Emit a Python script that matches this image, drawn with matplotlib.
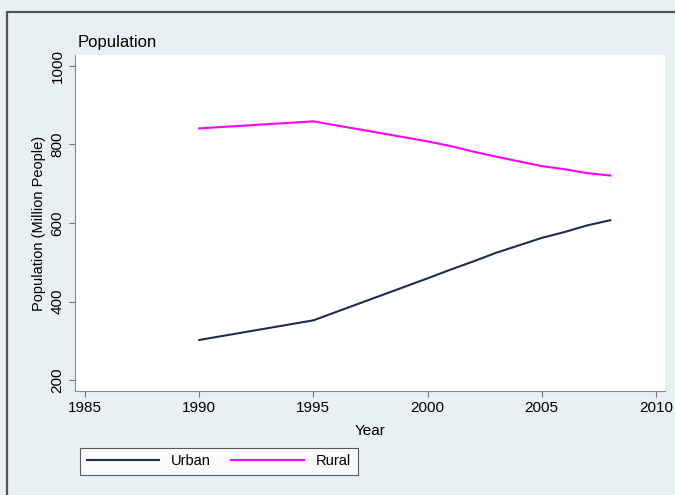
import matplotlib
matplotlib.use("Agg")
import matplotlib.pyplot as plt
from matplotlib.patches import Rectangle

plt.rcParams['font.family'] = ['Liberation Sans', 'DejaVu Sans']

# data (million people)
years = [1990, 1995, 2000, 2001, 2002, 2003, 2004, 2005, 2006, 2007, 2008]
urban = [302, 352, 459, 481, 502, 524, 543, 562, 577, 594, 607]
rural = [841, 859, 808, 796, 782, 769, 757, 745, 737, 727, 721]

x_ticks = [1985, 1990, 1995, 2000, 2005, 2010]
y_ticks = [200, 400, 600, 800, 1000]

bg = "#e8f0f2"
fig = plt.figure(figsize=(6.75, 4.95), dpi=100, facecolor=bg)

# outer frame of the screenshot
fig.patches.append(Rectangle((7 / 675, -0.05), 1.2, 1 - 12 / 495 + 0.05,
                             transform=fig.transFigure, fill=False,
                             edgecolor="#555555", linewidth=1.6))

ax = fig.add_axes([75 / 675, 1 - 391 / 495, 590 / 675, 336 / 495])
ax.set_facecolor("white")

ax.plot(years, urban, color="#1f2d4f", linewidth=1.5, label="Urban")
ax.plot(years, rural, color="#ff00ff", linewidth=1.5, label="Rural")

ax.set_xlim(1984.56, 2010.4)
ax.set_ylim(172, 1028)
ax.set_xticks(x_ticks)
ax.set_yticks(y_ticks)
ax.tick_params(axis='y', labelrotation=90, labelsize=11, length=4, color="#777777")
ax.tick_params(axis='x', labelsize=11, length=4, color="#777777")
for lab in ax.get_yticklabels():
    lab.set_va("center")

for s in ["top", "right"]:
    ax.spines[s].set_visible(False)
for s in ["left", "bottom"]:
    ax.spines[s].set_color("#888888")
    ax.spines[s].set_linewidth(0.8)

ax.set_xlabel("Year", fontsize=11, labelpad=-6 + 12)
ax.set_ylabel("Population (Million People)", fontsize=10.5, labelpad=3)
fig.text(78 / 675, 1 - 42 / 495, "Population", fontsize=12, va="center", ha="left")

leg = fig.legend(loc="lower left", bbox_to_anchor=(80 / 675, 1 - 475 / 495),
                 borderaxespad=0, ncol=2, fontsize=10.5, frameon=True, fancybox=False,
                 handlelength=5, columnspacing=1.4, borderpad=0.45)
leg.get_frame().set_edgecolor("#333333")
leg.get_frame().set_linewidth(0.8)
leg.get_frame().set_facecolor("white")

fig.savefig("out.png", dpi=100, facecolor=bg)
